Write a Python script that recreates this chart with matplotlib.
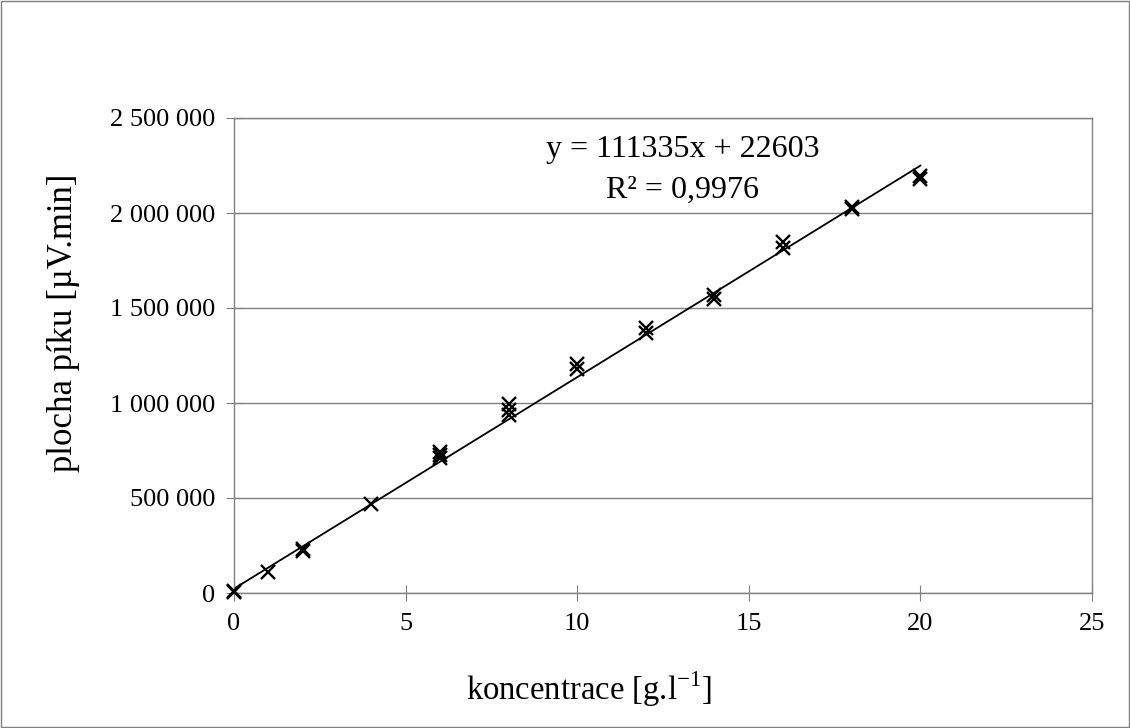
import matplotlib
matplotlib.use("Agg")
import matplotlib.pyplot as plt
from matplotlib.patches import Rectangle
from matplotlib.ticker import FuncFormatter

plt.rcParams['font.family'] = ['Liberation Serif', 'DejaVu Serif']

# data
conc = [0, 0, 1, 2, 2, 4, 6, 6, 6, 8, 8, 8, 10, 10, 12, 12, 14, 14, 16, 16, 18, 18, 20, 20]
area = [5000, 10000, 108000, 220000, 230000, 468000, 710000, 725000, 740000,
        995000, 962000, 935000, 1205000, 1180000, 1395000, 1368000,
        1568000, 1545000, 1845000, 1815000, 2030000, 2020000, 2195000, 2180000]
slope = 111335
intercept = 22603
r2_text = "R² = 0,9976"
fit_x = [0, 20]

W, H = 1130, 728
fig = plt.figure(figsize=(W / 100, H / 100), dpi=100)
fig.patches.append(Rectangle((0.001, 0.001), 0.998, 0.997, transform=fig.transFigure,
                             fill=False, edgecolor='#808080', linewidth=1.0))
ax = fig.add_axes([234 / W, 1 - 593 / H, (1092 - 234) / W, (593 - 118) / H])

ax.set_xlim(0, 25)
ax.set_ylim(0, 2500000)
ax.set_xticks([0, 5, 10, 15, 20, 25])
ax.set_yticks([0, 500000, 1000000, 1500000, 2000000, 2500000])
ax.yaxis.set_major_formatter(FuncFormatter(lambda v, p: f"{int(v):,}".replace(",", " ")))
ax.grid(axis='y', color='#808080', linewidth=1.0)
ax.set_axisbelow(True)
for s in ax.spines.values():
    s.set_color('#808080')
    s.set_linewidth(1.0)
ax.tick_params(axis='both', labelsize=19, colors='#808080', labelcolor='black',
               direction='inout', length=11)
ax.tick_params(axis='y', pad=8)
ax.tick_params(axis='x', pad=9)

ax.plot(fit_x, [slope * x + intercept for x in fit_x], color='black', linewidth=1.3, zorder=2)
ax.plot(conc, area, linestyle='none', marker='x', markersize=9.5, markeredgewidth=1.7,
        color='black', zorder=3, clip_on=False)

ax.text(13.08, 2295000, f"y = {slope}x + {intercept}", ha='center', va='baseline', fontsize=23)
ax.text(13.08, 2079000, r2_text, ha='center', va='baseline', fontsize=23)

fig.text(589 / W, 1 - 700 / H, "koncentrace [g.l$^{\\mathregular{-1}}$]", fontsize=23.5,
         ha='center', va='baseline')
fig.text(64 / W, 1 - 323 / H, "plocha píku [µV.min]", fontsize=25, rotation=90,
         ha='center', va='center')

fig.savefig("out.png", dpi=100)
